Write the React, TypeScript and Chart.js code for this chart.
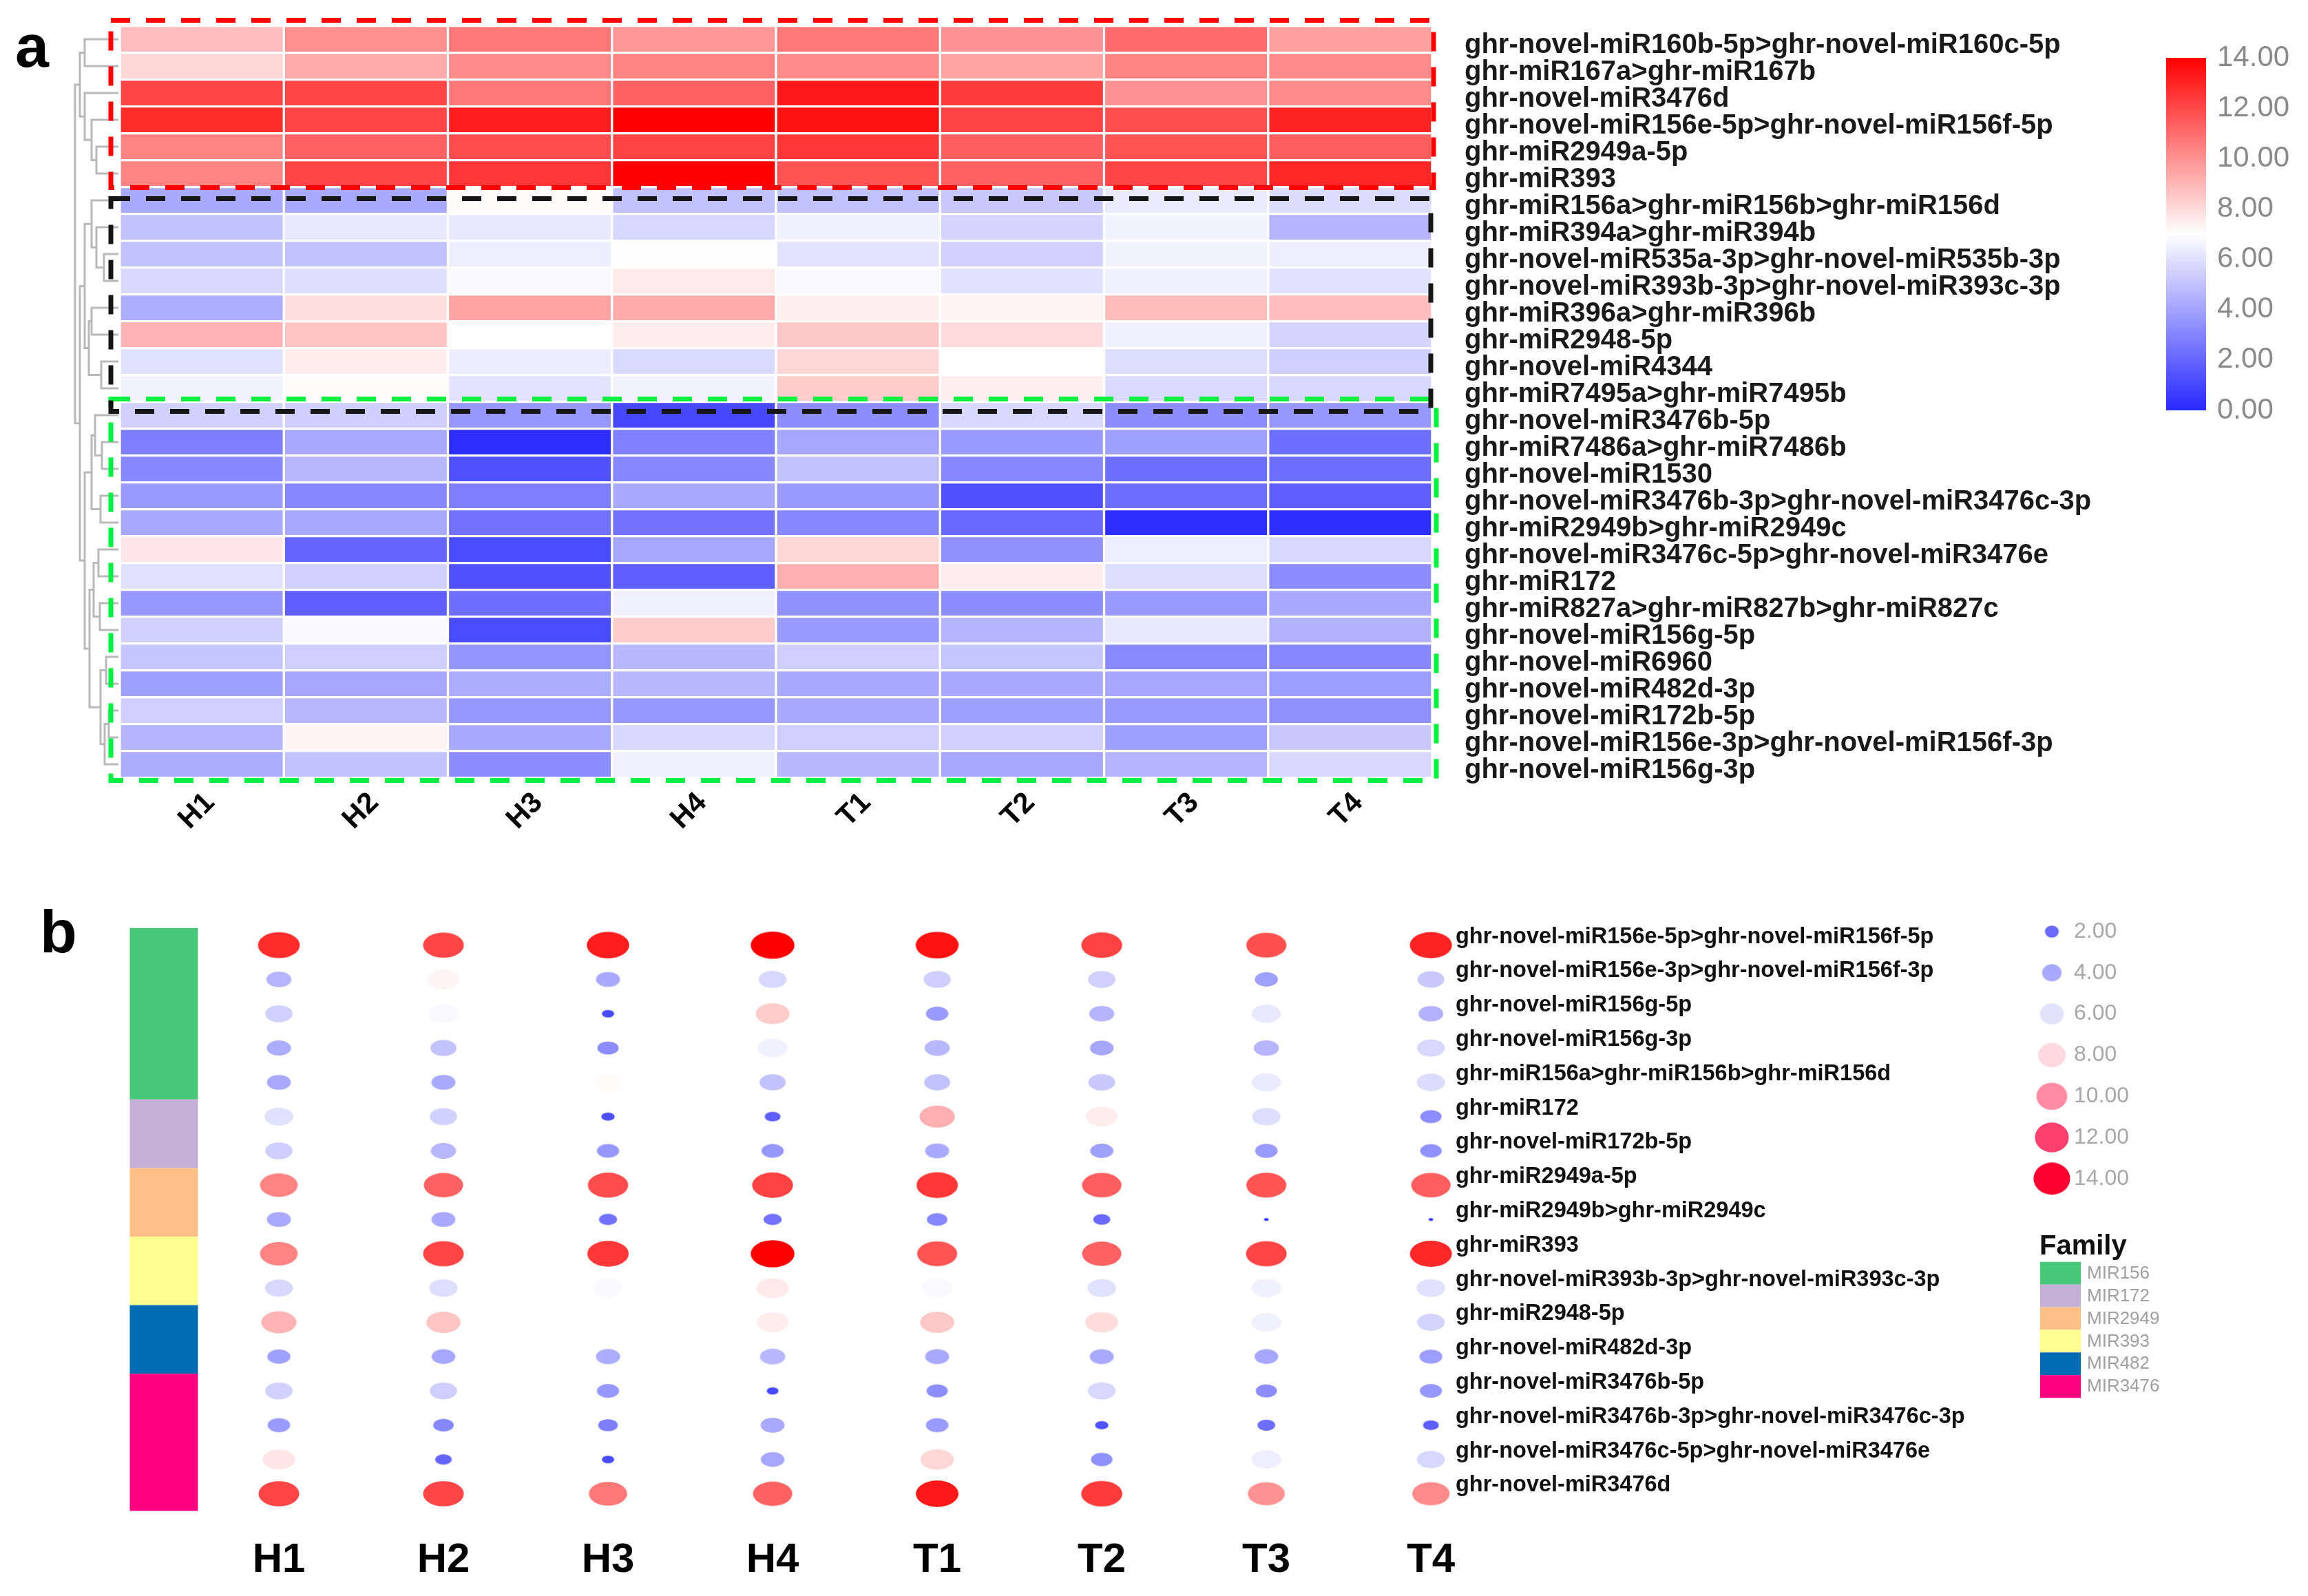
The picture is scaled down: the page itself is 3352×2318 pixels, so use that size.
import React, { useEffect, useRef } from "react";
import { Chart, registerables } from "chart.js";
Chart.register(...registerables);

// ---------------- data ----------------
const samples = ["H1", "H2", "H3", "H4", "T1", "T2", "T3", "T4"];

const heatRows = [
  "ghr-novel-miR160b-5p>ghr-novel-miR160c-5p",
  "ghr-miR167a>ghr-miR167b",
  "ghr-novel-miR3476d",
  "ghr-novel-miR156e-5p>ghr-novel-miR156f-5p",
  "ghr-miR2949a-5p",
  "ghr-miR393",
  "ghr-miR156a>ghr-miR156b>ghr-miR156d",
  "ghr-miR394a>ghr-miR394b",
  "ghr-novel-miR535a-3p>ghr-novel-miR535b-3p",
  "ghr-novel-miR393b-3p>ghr-novel-miR393c-3p",
  "ghr-miR396a>ghr-miR396b",
  "ghr-miR2948-5p",
  "ghr-novel-miR4344",
  "ghr-miR7495a>ghr-miR7495b",
  "ghr-novel-miR3476b-5p",
  "ghr-miR7486a>ghr-miR7486b",
  "ghr-novel-miR1530",
  "ghr-novel-miR3476b-3p>ghr-novel-miR3476c-3p",
  "ghr-miR2949b>ghr-miR2949c",
  "ghr-novel-miR3476c-5p>ghr-novel-miR3476e",
  "ghr-miR172",
  "ghr-miR827a>ghr-miR827b>ghr-miR827c",
  "ghr-novel-miR156g-5p",
  "ghr-novel-miR6960",
  "ghr-novel-miR482d-3p",
  "ghr-novel-miR172b-5p",
  "ghr-novel-miR156e-3p>ghr-novel-miR156f-3p",
  "ghr-novel-miR156g-3p",
];

// expression values per sample, in heatRows order
const H1 = [8.8, 8.1, 12.1, 12.8, 10.4, 10.4, 4.2, 5.0, 5.0, 5.7, 4.4, 9.1, 6.0, 6.6, 5.5, 2.8, 3.1, 3.7, 4.2, 7.7, 6.0, 3.6, 5.5, 5.1, 3.9, 5.4, 4.6, 4.3];
const H2 = [10.1, 9.3, 12.1, 12.1, 11.3, 12.1, 4.2, 6.25, 5.0, 5.9, 7.9, 8.6, 7.5, 7.1, 5.4, 4.2, 4.7, 3.1, 4.2, 2.0, 5.5, 1.8, 6.8, 5.4, 4.1, 4.7, 7.3, 5.0];
const H3 = [10.7, 10.2, 10.7, 13.2, 11.9, 12.5, 7.1, 6.25, 6.45, 6.8, 9.5, 7.0, 6.4, 6.1, 3.6, 0.15, 1.3, 2.8, 2.4, 1.1, 1.3, 2.3, 1.1, 3.5, 4.3, 3.6, 4.2, 3.3];
const H4 = [9.9, 10.4, 11.3, 14.0, 12.2, 14.0, 5.0, 5.7, 7.05, 7.6, 9.3, 7.5, 5.8, 6.6, 1.0, 2.9, 3.1, 4.2, 2.4, 4.1, 1.8, 6.5, 8.4, 4.7, 4.7, 3.6, 5.7, 6.5];
const T1 = [10.7, 10.2, 13.3, 13.5, 12.5, 11.7, 5.0, 6.5, 6.1, 6.8, 7.4, 8.5, 8.1, 8.4, 3.3, 4.1, 5.0, 3.7, 3.1, 8.1, 9.2, 3.4, 3.7, 5.4, 4.2, 4.2, 5.4, 4.7];
const T2 = [10.0, 9.5, 12.4, 12.2, 11.4, 11.3, 5.2, 5.6, 5.5, 6.0, 7.3, 7.95, 7.0, 7.4, 5.7, 3.7, 3.1, 1.3, 2.1, 3.4, 7.5, 3.3, 4.6, 5.1, 4.2, 3.9, 5.5, 4.1];
const T3 = [11.0, 10.4, 10.0, 11.8, 11.7, 12.1, 6.35, 6.6, 6.6, 6.5, 8.9, 6.5, 5.9, 5.8, 3.3, 3.9, 2.3, 2.3, 0.15, 6.45, 5.9, 3.7, 6.25, 3.2, 4.1, 3.7, 3.9, 4.6];
const T4 = [9.6, 10.2, 10.2, 13.0, 11.4, 12.9, 5.85, 4.55, 6.45, 6.0, 8.8, 5.6, 5.4, 5.7, 3.6, 2.3, 2.3, 1.8, 0.15, 5.7, 3.3, 4.2, 4.5, 3.1, 3.8, 3.4, 5.2, 5.7];
const heatColumns = [H1, H2, H3, H4, T1, T2, T3, T4];

// hierarchical clustering of rows: [left, right, merge height]
type DNode = number | [DNode, DNode, number];
const redCluster: DNode = [[0, 1, 4.9], [2, [3, [4, 5, 3.2], 3.9], 4.9], 5.6];
const blackCluster: DNode = [[6, [7, [8, 9, 2.1], 3.2], 3.9], [[10, 11, 3.9], [12, 13, 2.5], 4.3], 4.9];
const greenCluster: DNode = [
  [[14, [15, 16, 2.4], 3.4], [17, 18, 2.6], 3.9],
  [[[19, 20, 2.9], [21, 22, 2.7], 3.6], [[23, 24, 1.8], [[25, 26, 1.4], 27, 2.0], 2.6], 4.2],
  4.9,
];
const dendrogram: DNode = [redCluster, [blackCluster, greenCluster, 5.6], 6.3];

const bubbleRows = [
  "ghr-novel-miR156e-5p>ghr-novel-miR156f-5p",
  "ghr-novel-miR156e-3p>ghr-novel-miR156f-3p",
  "ghr-novel-miR156g-5p",
  "ghr-novel-miR156g-3p",
  "ghr-miR156a>ghr-miR156b>ghr-miR156d",
  "ghr-miR172",
  "ghr-novel-miR172b-5p",
  "ghr-miR2949a-5p",
  "ghr-miR2949b>ghr-miR2949c",
  "ghr-miR393",
  "ghr-novel-miR393b-3p>ghr-novel-miR393c-3p",
  "ghr-miR2948-5p",
  "ghr-novel-miR482d-3p",
  "ghr-novel-miR3476b-5p",
  "ghr-novel-miR3476b-3p>ghr-novel-miR3476c-3p",
  "ghr-novel-miR3476c-5p>ghr-novel-miR3476e",
  "ghr-novel-miR3476d",
];
const families = ["MIR156", "MIR172", "MIR2949", "MIR393", "MIR482", "MIR3476"];
const familySizes = [5, 2, 2, 2, 2, 4];
const familyColors = ["#48C878", "#C4B0D6", "#FFC087", "#FFFF91", "#006CB4", "#FF0080"];

const colorbarTicks = [0, 2, 4, 6, 8, 10, 12, 14];
const sizeLegendValues = [2, 4, 6, 8, 10, 12, 14];
const sizeLegendColors = ["#6a6aff", "#a8a8ff", "#e2e2fc", "#ffd8e0", "#ff8ca4", "#ff4170", "#ff0030"];

// ---------------- helpers ----------------
const FONT = '"Liberation Sans", Arial, sans-serif';

function colorFor(v: number): string {
  const t = Math.max(0, Math.min(14, v));
  let a: number[], b: number[], f: number;
  if (t <= 7) {
    a = [40, 40, 255];
    b = [255, 255, 255];
    f = t / 7;
  } else {
    a = [255, 255, 255];
    b = [255, 0, 0];
    f = (t - 7) / 7;
  }
  const c = a.map((x, i) => Math.round(x + (b[i] - x) * f));
  return `rgb(${c[0]},${c[1]},${c[2]})`;
}

const ellipseCache = new Map<string, HTMLCanvasElement>();
function ellipseFor(v: number, aspect = 0.62, scale = 17, fill?: string): HTMLCanvasElement {
  const key = `${v.toFixed(3)}|${aspect}|${scale}|${fill || ""}`;
  const hit = ellipseCache.get(key);
  if (hit) return hit;
  const w = scale * Math.sqrt(Math.max(v, 0.12));
  const h = w * aspect;
  const cv = document.createElement("canvas");
  cv.width = Math.ceil(w) + 4;
  cv.height = Math.ceil(h) + 4;
  const g = cv.getContext("2d")!;
  g.fillStyle = fill || colorFor(v);
  g.beginPath();
  g.ellipse(cv.width / 2, cv.height / 2, w / 2, h / 2, 0, 0, Math.PI * 2);
  g.fill();
  ellipseCache.set(key, cv);
  return cv;
}

function drawDendro(
  ctx: CanvasRenderingContext2D,
  node: DNode,
  yOf: (i: number) => number,
  xLeaf: number,
  unit: number
): { x: number; y: number } {
  if (typeof node === "number") return { x: xLeaf, y: yOf(node) };
  const a = drawDendro(ctx, node[0], yOf, xLeaf, unit);
  const b = drawDendro(ctx, node[1], yOf, xLeaf, unit);
  const x = xLeaf - node[2] * unit;
  ctx.beginPath();
  ctx.moveTo(a.x, a.y);
  ctx.lineTo(x, a.y);
  ctx.lineTo(x, b.y);
  ctx.lineTo(b.x, b.y);
  ctx.stroke();
  return { x, y: (a.y + b.y) / 2 };
}

function dashedRect(ctx: CanvasRenderingContext2D, x0: number, y0: number, x1: number, y1: number, color: string) {
  ctx.save();
  ctx.strokeStyle = color;
  ctx.lineWidth = 7;
  ctx.setLineDash([28, 23]);
  ctx.strokeRect(x0, y0, x1 - x0, y1 - y0);
  ctx.restore();
}

// ---------------- panel a plugin ----------------
const heatDecor = {
  id: "heatDecor",
  afterDraw(chart: any) {
    const ctx: CanvasRenderingContext2D = chart.ctx;
    const ys = chart.scales.y;
    const { left, right } = chart.chartArea;
    const yOf = (i: number) => ys.getPixelForTick(i);
    const rowH = yOf(1) - yOf(0);
    const top = (i: number) => yOf(i) - rowH / 2;
    const bot = (i: number) => yOf(i) + rowH / 2;

    // dendrogram
    ctx.save();
    ctx.strokeStyle = "#b9b9b9";
    ctx.lineWidth = 3;
    drawDendro(ctx, dendrogram, yOf, left - 2, 10);
    ctx.restore();

    // cluster boxes
    dashedRect(ctx, left - 13, top(0) - 8, right + 2, bot(5) + 1, "#ff0000");
    dashedRect(ctx, left - 13, top(14) - 4, right + 6, bot(27) + 4, "#00f040");
    dashedRect(ctx, left - 13, top(6) + 17, right - 2, top(14) + 14, "#151515");

    // colour bar
    const cbX = 3146, cbW = 58, cbTop = 84, cbBot = 596;
    const grad = ctx.createLinearGradient(0, cbBot, 0, cbTop);
    for (let k = 0; k <= 28; k++) grad.addColorStop(k / 28, colorFor((k / 28) * 14));
    ctx.fillStyle = grad;
    ctx.fillRect(cbX, cbTop, cbW, cbBot - cbTop);
    ctx.fillStyle = "#8a8a8a";
    ctx.font = `42px ${FONT}`;
    ctx.textAlign = "left";
    ctx.textBaseline = "middle";
    colorbarTicks.forEach((t) => {
      const y = cbBot - (t / 14) * (cbBot - cbTop);
      ctx.fillText(t.toFixed(2), 3220, y);
    });

    // panel letter
    ctx.fillStyle = "#000";
    ctx.font = `bold 88px ${FONT}`;
    ctx.textBaseline = "alphabetic";
    ctx.fillText("a", 22, 97);
  },
};

// ---------------- panel b plugin ----------------
const bubbleDecor = {
  id: "bubbleDecor",
  afterDraw(chart: any) {
    const ctx: CanvasRenderingContext2D = chart.ctx;
    const ys = chart.scales.y;
    const { left } = chart.chartArea;
    const rowH = Math.abs(ys.getPixelForValue(1) - ys.getPixelForValue(0));

    // family colour bar
    let start = 0;
    familySizes.forEach((n, k) => {
      const y0 = ys.getPixelForValue(start) - rowH / 2;
      const y1 = ys.getPixelForValue(start + n - 1) + rowH / 2;
      ctx.fillStyle = familyColors[k];
      ctx.fillRect(left - 97, y0, 99, y1 - y0);
      start += n;
    });

    // size legend
    ctx.textAlign = "left";
    ctx.textBaseline = "middle";
    sizeLegendValues.forEach((v, k) => {
      const y = 93 + k * 59.8;
      const img = ellipseFor(v, 0.88, 14.2, sizeLegendColors[k]);
      ctx.drawImage(img, 2980 - img.width / 2, y - img.height / 2);
      ctx.fillStyle = "#a8a8a8";
      ctx.font = `32px ${FONT}`;
      ctx.fillText(v.toFixed(2), 3012, y);
    });

    // family legend
    ctx.fillStyle = "#111";
    ctx.font = `bold 40px ${FONT}`;
    ctx.textBaseline = "alphabetic";
    ctx.fillText("Family", 2962, 562);
    families.forEach((f, k) => {
      const y = 572.7 + k * 32.9;
      ctx.fillStyle = familyColors[k];
      ctx.fillRect(2963, y, 59, 33);
      ctx.fillStyle = "#a0a0a0";
      ctx.font = `26px ${FONT}`;
      ctx.textBaseline = "middle";
      ctx.fillText(f, 3031, y + 17);
    });

    // panel letter
    ctx.fillStyle = "#000";
    ctx.font = `bold 88px ${FONT}`;
    ctx.textBaseline = "alphabetic";
    ctx.fillText("b", 58, 123);
  },
};

export default function App() {
  const aRef = useRef<HTMLCanvasElement>(null);
  const bRef = useRef<HTMLCanvasElement>(null);

  useEffect(() => {
    const heat = new Chart(aRef.current!, {
      type: "bar",
      data: {
        labels: heatRows,
        datasets: samples.map((s, c) => ({
          label: s,
          data: heatRows.map(() => 1),
          backgroundColor: heatColumns[c].map(colorFor),
          borderColor: "rgba(255,255,255,0.8)",
          borderWidth: 2,
          borderSkipped: false,
          barPercentage: 1,
          categoryPercentage: 1,
        })),
      },
      options: {
        indexAxis: "y",
        responsive: false,
        animation: false,
        devicePixelRatio: 1,
        layout: { padding: { left: 174, top: 37.6, right: 0, bottom: 0 } },
        plugins: { legend: { display: false }, tooltip: { enabled: false } },
        scales: {
          x: {
            type: "linear",
            stacked: true,
            min: 0,
            max: 8,
            grid: { display: false, drawTicks: false },
            border: { display: false },
            afterBuildTicks: (s: any) => {
              s.ticks = samples.map((_, i) => ({ value: i + 0.5 }));
            },
            afterFit: (s: any) => {
              s.height = 130.4;
            },
            ticks: {
              autoSkip: false,
              minRotation: 45,
              maxRotation: 45,
              padding: 12,
              labelOffset: 12,
              color: "#000",
              font: { family: FONT, weight: "bold", size: 42 },
              callback: (_v: any, i: number) => samples[i],
            },
          },
          y: {
            type: "category",
            position: "right",
            stacked: true,
            offset: true,
            grid: { display: false, drawTicks: true, tickLength: 47 },
            border: { display: false },
            afterFit: (s: any) => {
              s.width = 3352 - 2080;
            },
            ticks: {
              autoSkip: false,
              padding: 0,
              labelOffset: 9,
              color: "#1a1a1a",
              font: { family: FONT, weight: "bold", size: 40 },
            },
          },
        },
      } as any,
      plugins: [heatDecor],
    });

    const bubblePoints = bubbleRows.flatMap((name, r) =>
      samples.map((_, c) => ({ x: c, y: r, v: heatColumns[c][heatRows.indexOf(name)] }))
    );

    const bubbles = new Chart(bRef.current!, {
      type: "scatter",
      data: {
        datasets: [
          {
            data: bubblePoints,
            pointRadius: 12,
            pointStyle: (ctx: any) => ellipseFor(ctx.raw ? ctx.raw.v : 1),
          } as any,
        ],
      },
      options: {
        responsive: false,
        animation: false,
        devicePixelRatio: 1,
        layout: { padding: { left: 285.5, top: 87.8, right: 0, bottom: 0 } },
        plugins: { legend: { display: false }, tooltip: { enabled: false } },
        scales: {
          x: {
            type: "linear",
            min: -0.5,
            max: 7.15,
            grid: { display: false, drawTicks: false },
            border: { display: false },
            afterBuildTicks: (s: any) => {
              s.ticks = samples.map((_, i) => ({ value: i }));
            },
            afterFit: (s: any) => {
              s.height = 123.6;
            },
            ticks: {
              autoSkip: false,
              maxRotation: 0,
              minRotation: 0,
              padding: 36,
              color: "#000",
              font: { family: FONT, weight: "bold", size: 60 },
              callback: (_v: any, i: number) => samples[i],
            },
          },
          y: {
            type: "linear",
            position: "right",
            reverse: true,
            min: -0.5,
            max: 16.5,
            grid: { display: false, drawTicks: false },
            border: { display: false },
            afterBuildTicks: (s: any) => {
              s.ticks = bubbleRows.map((_, i) => ({ value: i }));
            },
            afterFit: (s: any) => {
              s.width = 3352 - 2114;
            },
            ticks: {
              autoSkip: false,
              padding: 0,
              labelOffset: -12,
              color: "#111",
              font: { family: FONT, weight: "bold", size: 32.5 },
              callback: (_v: any, i: number) => bubbleRows[i],
            },
          },
        },
      } as any,
      plugins: [bubbleDecor],
    });

    return () => {
      heat.destroy();
      bubbles.destroy();
    };
  }, []);

  return (
    <div style={{ position: "absolute", left: 0, top: 0, width: 3352, height: 2318, background: "#fff", overflow: "hidden" }}>
      <canvas
        ref={aRef}
        width={3352}
        height={1260}
        style={{ position: "absolute", left: 0, top: 0, width: 3352, height: 1260 }}
      />
      <canvas
        ref={bRef}
        width={3352}
        height={1058}
        style={{ position: "absolute", left: 0, top: 1260, width: 3352, height: 1058 }}
      />
    </div>
  );
}
